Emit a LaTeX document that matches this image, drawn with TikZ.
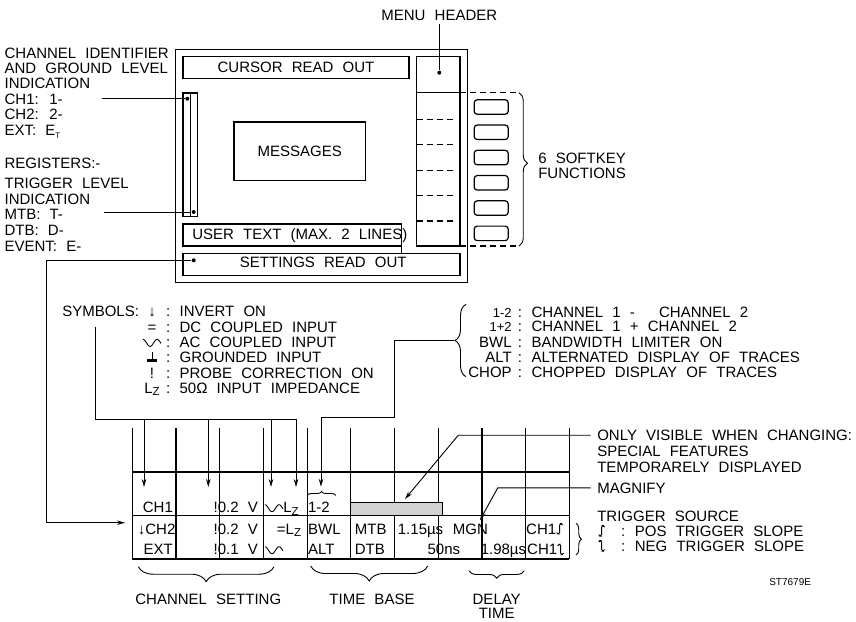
\documentclass[tikz,border=0pt]{standalone}
\usepackage{fontspec}
\setmainfont[WordSpace=2.2]{Liberation Sans}
\usetikzlibrary{arrows.meta, decorations.pathreplacing}

\newcommand{\labelfont}{\fontsize{15}{15.5}\selectfont}
\newcommand{\smallfont}{\fontsize{13}{13}\selectfont}
% little symbols used in the read-out
\newcommand{\acwave}{\tikz[x=1pt,y=1pt,baseline=0pt]\draw[line width=0.9pt] plot[domain=0:18,samples=30,smooth] (\x,{4.5+3.5*cos(25.5*\x)});}
\newcommand{\gndsym}{\tikz[x=1pt,y=1pt,baseline=0pt]{\draw[line width=0.9pt] (5,2) -- (5,10.5); \draw[line width=2.8pt] (0,2) -- (10,2);}}
\newcommand{\possl}{\tikz[x=1pt,y=1pt,baseline=0pt]\draw[line width=0.9pt, rounded corners=1.5pt] (0,1.5) -- (0.5,0) -- (3,0) -- (3,10.5) -- (5.5,10.5) -- (6,9);}
\newcommand{\negsl}{\tikz[x=1pt,y=1pt,baseline=0pt]\draw[line width=0.9pt, rounded corners=1.5pt] (0,9) -- (0.5,10.5) -- (3,10.5) -- (3,0) -- (5.5,0) -- (6,1.5);}
\newcommand{\lz}{L\raisebox{-2.5pt}{\fontsize{11.5}{11.5}\selectfont Z}}
\newcommand{\etsym}{E\raisebox{-3pt}{\fontsize{8}{8}\selectfont T}}

\tikzset{
  txt/.style={inner sep=0pt, anchor=base west},
  txtr/.style={inner sep=0pt, anchor=base east},
  txtc/.style={inner sep=0pt, anchor=base},
  panel/.style={draw, inner sep=0pt},
  softkey/.style={draw, rounded corners=3pt, minimum width=34pt, minimum height=14.5pt, inner sep=0pt},
  menusep/.style={dash pattern=on 6pt off 4pt},
  spot/.style={circle, fill, inner sep=0pt, minimum size=4pt},
  lead/.style={line width=0.9pt},
  leadarrow/.style={lead, -{Stealth[length=8pt, width=4.5pt]}},
  curly/.style={decorate, line width=0.9pt},
}

\begin{document}
\begin{tikzpicture}[x=1pt, y=-1pt, line width=1.2pt, font=\labelfont]
    \useasboundingbox (0,0) rectangle (856,621);

    % Screen with its fields
    \draw (175.7,49.3) rectangle (467.3,282.7);
    \node[panel, minimum width=226pt, minimum height=21.6pt] (cursor) at (296,67.5) {CURSOR READ OUT};
    \node[panel, minimum width=131.7pt, minimum height=58.3pt] (msg) at (299.8,151.2) {MESSAGES};
    \draw (183,224) rectangle (401.7,246);
    \node[txt] (usertext) at (191.7,239.4) {USER TEXT (MAX. 2 LINES)};
    \draw (401.7,246) -- (401.7,253.3);
    \node[panel, minimum width=277pt, minimum height=22pt] (settings) at (321.5,264.3) {};
    \node[txtc] (settingstxt) at (323.3,267.4) {SETTINGS READ OUT};
    \node[spot] (setdot) at (193.7,260.3) {};

    % Channel identifier / trigger level bar
    \draw (183,93) rectangle (197.7,216.7);
    \draw (190.3,93) -- (190.3,216.7);
    \node[spot] (chdot) at (187.3,98.7) {};
    \node[spot] (trigdot) at (193.7,212) {};

    % Menu column and softkeys
    \draw (416.7,56.7) rectangle (460,246);
    \draw (416.7,92.7) -- (460,92.7);
    \node[spot] (hdrdot) at (439.3,72.7) {};
    \foreach \i in {0,...,4}
        \draw[menusep] (416.7,{119.3+25.4*\i}) -- (455,{119.3+25.4*\i});
    \draw[menusep] (460,92.7) -- (518,92.7);
    \draw[menusep] (460,246) -- (518,246);
    \foreach \i in {1,...,6}
        \node[softkey] (key\i) at (491.2,{107+25.27*(\i-1)}) {};
    \draw[curly, decoration={brace, amplitude=8.5pt, aspect=0.46}] (519,92.7) -- (519,246);
    \node[txt] (softkeys) at (537.7,163.4) {6 SOFTKEY};
    \node[txt] (softkeys2) at (537.7,178.7) {FUNCTIONS};

    \node[txtc] (menuhdr) at (439.3,20.7) {MENU HEADER};
    \draw[lead, shorten <=2.3pt] (menuhdr.south) -- (hdrdot);

    % Texts on the left
    \foreach \yb/\txt [count=\n] in {58/CHANNEL IDENTIFIER, 73.7/AND GROUND LEVEL,
        88.7/INDICATION, 104/CH1: 1-, 119.7/CH2: 2-, 135.3/EXT: \etsym,
        168.7/REGISTERS:-, 188.7/TRIGGER LEVEL, 204.3/INDICATION,
        219.7/MTB: T-, 235.3/DTB: D-, 251/EVENT: E-}
        \node[txt] (ident\n) at (4,\yb) {\txt};
    \coordinate (chlead) at (101.7,98.7);
    \coordinate (triglead) at (104.3,212);
    \draw[lead] (chlead) -- (chdot);
    \draw[lead] (triglead) -- (trigdot);

    % Settings read out goes to the bottom line
    \coordinate (setin) at (125,522.7);
    \draw[leadarrow] (setdot) -| (46.7,522.7) -- (setin);

    % Symbols
    \node[txt] (symhdr) at (61.7,316.4) {SYMBOLS:};
    \foreach \yb/\sym/\txt [count=\n] in {316.4/↓/INVERT ON, 332.1/=/DC COUPLED INPUT,
        347.4/\acwave/AC COUPLED INPUT, 362.7/\gndsym/GROUNDED INPUT,
        378.1/!/PROBE CORRECTION ON, 393.4/\lz/50Ω INPUT IMPEDANCE} {
        \node[txtc] (sym\n) at (152,\yb) {\sym};
        \node[txtc] (symcolon\n) at (168.3,\yb) {:};
        \node[txt] (symtxt\n) at (179,\yb) {\txt};
    }
    \coordinate (symtop) at (95.7,326.7);
    \draw[lead] (symtop) |- (296,419.3);
    \foreach \xa in {144,208.3,271,296}
        \draw[leadarrow] (\xa,419.3) -- (\xa,487);

    % Trace combinations
    \foreach \yb/\lab/\txt [count=\n] in {317.1/{\smallfont 1-2}/CHANNEL 1 -\hspace{15pt} CHANNEL 2,
        331.4/{\smallfont 1+2}/CHANNEL 1 + CHANNEL 2, 347.1/BWL/BANDWIDTH LIMITER ON,
        362.1/ALT/ALTERNATED DISPLAY OF TRACES, 377.1/CHOP/CHOPPED DISPLAY OF TRACES} {
        \node[txtr] (mode\n) at (512.3,\yb) {\lab};
        \node[txtc] (modecolon\n) at (520,\yb) {:};
        \node[txt] (modetxt\n) at (531,\yb) {\txt};
    }
    \draw[curly, decoration={brace, amplitude=11pt}] (466,376.7) -- (466,304.3);
    \coordinate (listtip) at (454.3,340.5);
    \draw[leadarrow] (listtip) -- (394.3,340.5) |- (321,417.3) -- (321,486.7);

    % Bottom read out grid
    \foreach \i in {0,...,10}
        \draw ({132.3+43.7*\i},428) -- ({132.3+43.7*\i},559);
    \foreach \yy in {472,515.7,559}
        \draw (132.3,\yy) -- (569.3,\yy);
    \node[draw, fill=gray!35, inner sep=0pt, minimum width=92pt, minimum height=13.4pt] (bar) at (396.8,509) {};

    \node[txtr] (ch1) at (173.5,512.7) {CH1};
    \node[txtr] (ch2) at (176,534) {↓CH2};
    \node[txtr] (ext) at (173.5,554.7) {EXT};
    \node[txtr] (volt1) at (258.5,512.7) {!0.2 V};
    \node[txtr] (volt2) at (258.5,534) {!0.2 V};
    \node[txtr] (volt3) at (258.5,554.7) {!0.1 V};
    \node[txt] (cpl1) at (264.3,512.7) {\acwave\lz};
    \node[txtr] (cpl2) at (301.7,534) {=\lz};
    \node[txt] (cpl3) at (264.3,554.7) {\acwave};
    \node[txt] (diff) at (307.5,512.7) {1-2};
    \draw[curly, decoration={brace, amplitude=4pt}] (307.3,495.5) -- (335.7,495.5);
    \node[txt] (bwl) at (307.5,534) {BWL};
    \node[txt] (alt) at (307.5,554.7) {ALT};
    \node[txt] (mtb) at (354.3,534) {MTB};
    \node[txt] (dtb) at (354.3,554.7) {DTB};
    \node[txt] (mtbtime) at (397.3,534) {1.15µs};
    \node[txt] (mgn) at (452.3,534) {MGN};
    \node[txtr] (dtbtime) at (460.7,554.7) {50ns};
    \node[txtr] (delay) at (526.7,554.7) {1.98µs};
    \node[txt] (trig1) at (526,534) {CH1\possl};
    \node[txt] (trig2) at (527,554.7) {CH1\negsl};

    % Notes on the right
    \node[txt] (visible) at (596.7,440.4) {ONLY VISIBLE WHEN CHANGING:};
    \node[txt] (special) at (596.7,456.4) {SPECIAL FEATURES};
    \node[txt] (temp) at (596.7,472.1) {TEMPORARELY DISPLAYED};
    \node[txt] (magnify) at (596.7,493.1) {MAGNIFY};
    \node[txt] (trigsrc) at (596.7,521.1) {TRIGGER SOURCE};
    \node[txt] (possym) at (598,536.1) {\possl};
    \node[txtc] (poscolon) at (623.3,536.1) {:};
    \node[txt] (postxt) at (634.3,536.1) {POS TRIGGER SLOPE};
    \node[txt] (negsym) at (598,551.1) {\negsl};
    \node[txtc] (negcolon) at (623.3,551.1) {:};
    \node[txt] (negtxt) at (634.3,551.1) {NEG TRIGGER SLOPE};
    \draw[curly, decoration={brace, amplitude=5.5pt}] (576,523.3) -- (576,555);
    \draw[leadarrow] ([xshift=-6pt]visible.west) -- ++(-132.4,0) -- (405,499);
    \draw[leadarrow] ([xshift=-6pt]magnify.west) -- ++(-93,0) -- (480,520);
    \node[txt, font=\fontsize{10}{10}\selectfont] (code) at (768.7,585) {ST7679E};

    % Groups under the grid
    \draw[curly, decoration={brace, amplitude=15pt}] (274,566.7) -- (138.3,566.7);
    \node[txtc] (chset) at (208.3,604.7) {CHANNEL SETTING};
    \draw[curly, decoration={brace, amplitude=15pt}] (427.7,566) -- (310.7,566);
    \node[txtc] (timebase) at (372,604.7) {TIME BASE};
    \draw[curly, decoration={brace, amplitude=7.5pt}] (524.3,570.7) -- (469,570.7);
    \node[txtc] (delaylbl) at (496.7,604.7) {DELAY};
    \node[txtc] (delaylbl2) at (496.7,618.7) {TIME};
\end{tikzpicture}
\end{document}
